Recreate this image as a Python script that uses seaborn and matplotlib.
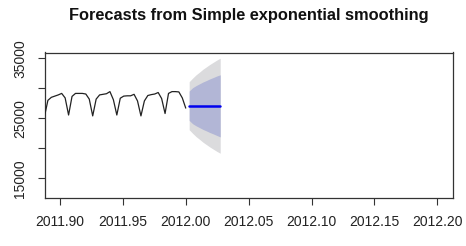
import numpy as np
import pandas as pd
import matplotlib
matplotlib.use("Agg")
import matplotlib.pyplot as plt
import seaborn as sns

# ---- data ----
freq = 365
start_time = 2012.0 - 42 / 365
observed = [28300, 25300, 28000, 28500, 28700, 28900, 29150, 28400,
            25550, 28650, 29150, 29150, 29150, 29050, 28200,
            25400, 28200, 28900, 29000, 29100, 29450, 28100,
            25550, 28350, 28700, 28750, 28750, 29000, 27900,
            25400, 27900, 28800, 28950, 29050, 29300, 28300,
            25800, 29150, 29450, 29450, 29400, 28400, 26700]
horizon = [1, 2, 3, 4, 5, 6, 7, 8, 9, 10]
point_fc = [27100, 27100, 27100, 27100, 27100, 27100, 27100, 27100, 27100, 27100]
upper95 = [31100, 31700, 32250, 32700, 33180, 33580, 33980, 34340, 34700, 35020]
lower95 = [23100, 22500, 21950, 21500, 21020, 20620, 20220, 19860, 19500, 19180]
upper80 = [29550, 30100, 30450, 30750, 31050, 31300, 31570, 31800, 32050, 32250]
lower80 = [24650, 24100, 23750, 23450, 23150, 22900, 22630, 22400, 22150, 21900]
xticks = [2011.90, 2011.95, 2012.00, 2012.05, 2012.10, 2012.15, 2012.20]
yticks = [15000, 20000, 25000, 30000, 35000]
ytick_labels = ["15000", "", "25000", "", "35000"]
title = "Forecasts from Simple exponential smoothing"

obs_df = pd.DataFrame({"time": start_time + np.arange(len(observed)) / freq,
                       "value": observed})
fc_df = pd.DataFrame({"time": 2012.0 + np.array(horizon) / freq,
                      "mean": point_fc, "lo95": lower95, "hi95": upper95,
                      "lo80": lower80, "hi80": upper80})

sns.set_theme(style="white")
plt.rcParams["font.family"] = ["Liberation Sans", "DejaVu Sans"]

fig = plt.figure(figsize=(4.66, 2.46), dpi=100)
ax = fig.add_axes([44.5 / 466, 1 - 197.5 / 246, 408 / 466, 145 / 246])

ax.fill_between(fc_df["time"], fc_df["lo95"], fc_df["hi95"], color="#DBDBDD", lw=0, zorder=1)
ax.fill_between(fc_df["time"], fc_df["lo80"], fc_df["hi80"], color="#B2B6D6", lw=0, zorder=2)
sns.lineplot(data=obs_df, x="time", y="value", ax=ax, color="#222222", lw=0.9, zorder=3)
sns.lineplot(data=fc_df, x="time", y="mean", ax=ax, color="#0000EE", lw=1.8, zorder=4)

ax.set_xlim(2011.8877, 2012.2121)
ax.set_ylim(11800, 35970)
ax.set_xticks(xticks)
ax.set_xticklabels([f"{t:.2f}" for t in xticks])
ax.set_yticks(yticks)
ax.set_yticklabels(ytick_labels, rotation=90, va="center")
ax.set_xlabel("")
ax.set_ylabel("")
ax.tick_params(axis="both", which="major", direction="out", length=5, width=0.8,
               color="#333333", labelsize=10, labelcolor="#222222", pad=7.5,
               bottom=True, left=True)
for s in ax.spines.values():
    s.set_color("#333333")
    s.set_linewidth(0.9)

fig.text(248.5 / 466, 1 - 15.5 / 246, title, ha="center", va="center",
         fontsize=11.8, fontweight="bold", color="#111111")

fig.savefig("out.png", dpi=100)
